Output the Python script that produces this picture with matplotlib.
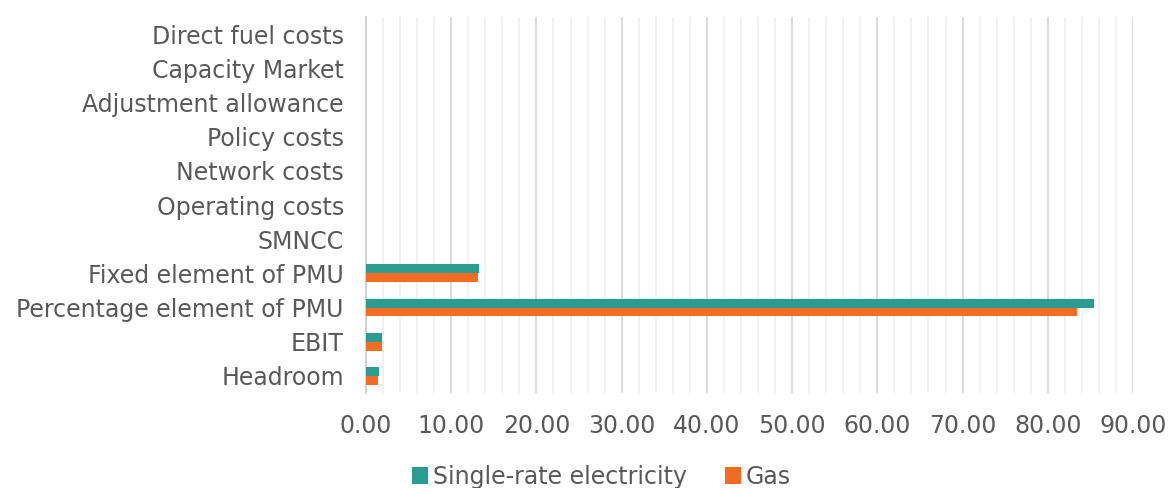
import numpy as np
import matplotlib.pyplot as plt
from matplotlib.ticker import MultipleLocator

# Cost components (top to bottom as shown)
categories = ["Direct fuel costs", "Capacity Market", "Adjustment allowance",
              "Policy costs", "Network costs", "Operating costs", "SMNCC",
              "Fixed element of PMU", "Percentage element of PMU", "EBIT", "Headroom"]
electricity = [0, 0, 0, 0, 0, 0, 0, 13.3, 85.4, 1.9, 1.5]
gas = [0, 0, 0, 0, 0, 0, 0, 13.2, 83.4, 1.9, 1.4]

teal = "#2a9d90"
orange = "#f36c23"
grey_txt = "#595959"

fig = plt.figure(figsize=(11.7, 4.88), dpi=100)
ax = fig.add_axes([366/1170, 1 - 393/488, (1133 - 366)/1170, (393 - 17)/488])

y = np.arange(len(categories))[::-1]
h = 0.26
ax.barh(y + h/2, electricity, height=h, color=teal, label="Single-rate electricity", zorder=3)
ax.barh(y - h/2, gas, height=h, color=orange, label="Gas", zorder=3)

ax.set_xlim(0, 90)
ax.set_ylim(-0.5, len(categories) - 0.5)
ax.set_yticks(y)
ax.set_yticklabels(categories)
ax.xaxis.set_minor_locator(MultipleLocator(2))
ax.set_xticks(np.arange(0, 91, 10))
ax.set_xticklabels([f"{v:.2f}" for v in np.arange(0, 91, 10)])

ax.grid(axis="x", which="major", color="#d9d9d9", linewidth=1.3, zorder=0)
ax.grid(axis="x", which="minor", color="#f0f0f0", linewidth=1.3, zorder=0)
for s in ["top", "right", "bottom"]:
    ax.spines[s].set_visible(False)
ax.spines["left"].set_color("#d0d0d0")
ax.spines["left"].set_linewidth(1.3)

ax.tick_params(axis="both", which="both", length=0, labelsize=17, colors=grey_txt)
ax.tick_params(axis="y", pad=16)
ax.tick_params(axis="x", pad=15)

leg = fig.legend(loc="lower center", bbox_to_anchor=(0.514, -0.045), ncol=2, frameon=False,
                 fontsize=17, handlelength=0.7, handleheight=0.7, handletextpad=0.2,
                 columnspacing=1.6)
for t in leg.get_texts():
    t.set_color(grey_txt)

fig.savefig("out.png", dpi=100)
